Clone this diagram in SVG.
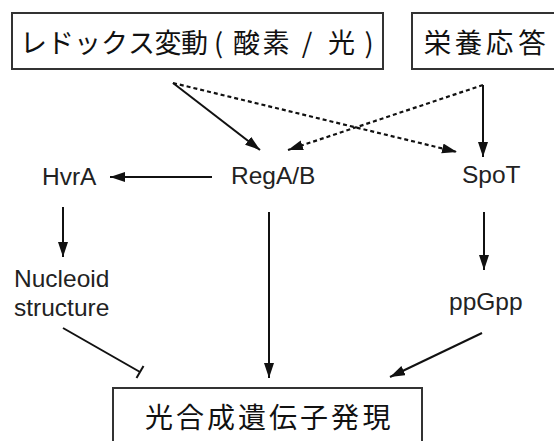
<svg xmlns="http://www.w3.org/2000/svg" width="554" height="441" viewBox="0 0 554 441">
<style>
.box{fill:#fff;stroke:#333;stroke-width:2}
.jp{font-family:"Noto Sans CJK JP","Noto Sans CJK SC",sans-serif;fill:#111;text-anchor:middle}
.lb{font-family:"Liberation Sans",Arial,sans-serif;font-size:24.5px;fill:#222}
.ln{stroke:#111;stroke-width:2;fill:none}
.ds{stroke:#111;stroke-width:2.2;fill:none;stroke-dasharray:4 3}
</style>
<defs>
<marker id="ah" markerUnits="userSpaceOnUse" markerWidth="17" markerHeight="12" refX="15" refY="5" orient="auto">
<path d="M0,0 L15,5 L0,10 z" fill="#111"/>
</marker>
</defs>
<rect width="554" height="441" fill="#fff"/>
<g id="redox">
<rect class="box" x="12" y="13" width="371" height="56"/>
<text class="jp" y="53" font-size="27"><tspan x="33.5">レ</tspan><tspan x="60.5">ド</tspan><tspan x="87.5">ッ</tspan><tspan x="114.5">ク</tspan><tspan x="141.5">ス</tspan><tspan x="168">変</tspan><tspan x="194.5">動</tspan><tspan x="218.5">(</tspan><tspan x="246.5">酸</tspan><tspan x="276">素</tspan><tspan x="307">/</tspan><tspan x="341.5">光</tspan><tspan x="369">)</tspan></text>
</g>
<g id="nutrient">
<rect class="box" x="412" y="13" width="146" height="56"/>
<text class="jp" y="53" font-size="27.5"><tspan x="437.5">栄</tspan><tspan x="468.5">養</tspan><tspan x="499.5">応</tspan><tspan x="532">答</tspan></text>
</g>
<g id="rega"><text class="lb" x="231" y="184">RegA/B</text></g>
<g id="hvra"><text class="lb" x="42" y="185">HvrA</text></g>
<g id="spot"><text class="lb" x="462" y="183">SpoT</text></g>
<g id="nucleoid"><text class="lb" x="14" y="287">Nucleoid</text><text class="lb" x="14" y="316">structure</text></g>
<g id="ppgpp"><text class="lb" x="449" y="310">ppGpp</text></g>
<g id="photo">
<rect class="box" x="113" y="388" width="309" height="60"/>
<text class="jp" y="428" font-size="28"><tspan x="159">光</tspan><tspan x="190">合</tspan><tspan x="221">成</tspan><tspan x="252">遺</tspan><tspan x="283">伝</tspan><tspan x="314">子</tspan><tspan x="345">発</tspan><tspan x="376.5">現</tspan></text>
</g>
<g id="connectors">
<line class="ln" x1="173" y1="83" x2="260" y2="150" marker-end="url(#ah)"/>
<line class="ds" x1="173" y1="83" x2="457" y2="152" marker-end="url(#ah)"/>
<line class="ds" x1="483" y1="85" x2="288" y2="150" marker-end="url(#ah)"/>
<line class="ln" x1="483" y1="85" x2="483" y2="157" marker-end="url(#ah)"/>
<line class="ln" x1="212" y1="177" x2="110" y2="177" marker-end="url(#ah)"/>
<line class="ln" x1="63" y1="207" x2="63" y2="257" marker-end="url(#ah)"/>
<line class="ln" x1="269" y1="212" x2="269" y2="378" marker-end="url(#ah)"/>
<line class="ln" x1="484" y1="212" x2="484" y2="270" marker-end="url(#ah)"/>
<line class="ln" x1="63" y1="328" x2="140" y2="372"/>
<line class="ln" x1="136.5" y1="378" x2="143.5" y2="366"/>
<line class="ln" x1="482" y1="333" x2="390" y2="377" marker-end="url(#ah)"/>
</g>
</svg>
